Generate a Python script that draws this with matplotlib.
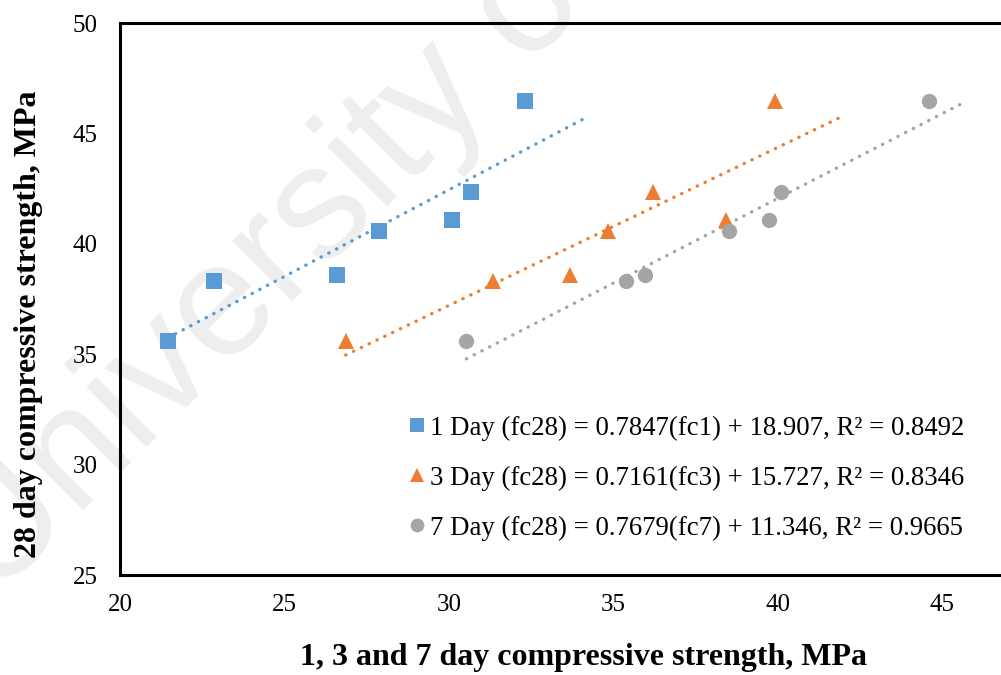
import matplotlib
matplotlib.use("Agg")
import matplotlib.pyplot as plt
import numpy as np

# 28-day strength and the matching early-age strengths (MPa)
fc28 = [35.6, 38.3, 38.6, 40.6, 41.1, 42.35, 46.45]
fc1 = [21.45, 22.87, 26.61, 27.86, 30.08, 30.68, 32.31]
fc3 = [26.86, 31.34, 33.68, 34.83, 38.42, 36.19, 39.91]
fc7 = [30.53, 35.39, 35.97, 38.51, 39.74, 40.08, 44.59]

series_names = ["1 Day", "3 Day", "7 Day"]
slopes = [0.7847, 0.7161, 0.7679]
intercepts = [18.907, 15.727, 11.346]
r_squared = [0.8492, 0.8346, 0.9665]
trend_end = [34.13, 41.85, 45.53]

x_ticks = [20, 25, 30, 35, 40, 45]
y_ticks = [25, 30, 35, 40, 45, 50]

colors = ["#5B9BD5", "#ED7D31", "#A5A5A5"]
markers = ["s", "^", "o"]
marker_sizes = [11, 11.5, 11]

plt.rcParams["font.family"] = ["Liberation Serif", "DejaVu Serif"]

W, H = 1001, 675
fig = plt.figure(figsize=(W / 100, H / 100), dpi=100)

# plot area: left edge at x=20, extends past the right border of the figure
px_per_unit = 32.9
left_px, top_px, bottom_px = 120, 23, 575
x_lo, x_hi = 20, 50
ax = fig.add_axes([left_px / W, (H - bottom_px) / H,
                   (x_hi - x_lo) * px_per_unit / W, (bottom_px - top_px) / H])
ax.set_facecolor("none")

# faint watermark behind the chart
fig.text(-6 / W, 1 - 600 / H, "University of", rotation=45, rotation_mode="anchor",
         ha="left", va="baseline", fontsize=116, color="#eeeeee",
         family=["Liberation Sans", "DejaVu Sans"], zorder=-5)

handles = []
for xs, name, m, c, s, ms, b, r2, xe in zip(
        [fc1, fc3, fc7], series_names, markers, colors, slopes, marker_sizes,
        intercepts, r_squared, trend_end):
    xs = np.asarray(xs)
    fit_x = np.array([xs.min(), xe])
    ax.plot(fit_x, s * fit_x + b, color=c, lw=2.4,
            linestyle=(0, (0.1, 2.5)), dash_capstyle="round", zorder=2)
    n = name.split()[0]
    label = f"{name} (fc28) = {s:.4f}(fc{n}) + {b:.3f}, R\u00b2 = {r2:.4f}"
    h, = ax.plot(xs, fc28, linestyle="none", marker=m, markersize=ms, color=c,
                 markeredgewidth=0, label=label, zorder=3)
    handles.append(h)

ax.set_xlim(x_lo, x_hi)
ax.set_ylim(25, 50)
ax.set_xticks(x_ticks)
ax.set_yticks(y_ticks)
ax.tick_params(length=0, labelsize=18)
ax.tick_params(axis="y", pad=16)
ax.tick_params(axis="x", pad=14)
for sp in ax.spines.values():
    sp.set_linewidth(2.2)
    sp.set_color("black")

leg = ax.legend(handles=handles, loc="center left",
                bbox_to_anchor=(394 / W, 1 - 478 / H), bbox_transform=fig.transFigure,
                frameon=False, fontsize=19.3, handlelength=0.7, handletextpad=0.15,
                labelspacing=0.93, borderpad=0, markerscale=0.9)

fig.text(583 / W, 1 - 657 / H, "1, 3 and 7 day compressive strength, MPa",
         ha="center", va="center", fontsize=23, fontweight="bold")
fig.text(29 / W, 1 - 324 / H, "28 day compressive strength, MPa",
         ha="center", va="center", rotation=90, fontsize=23, fontweight="bold")

fig.savefig("out.png", dpi=100)
